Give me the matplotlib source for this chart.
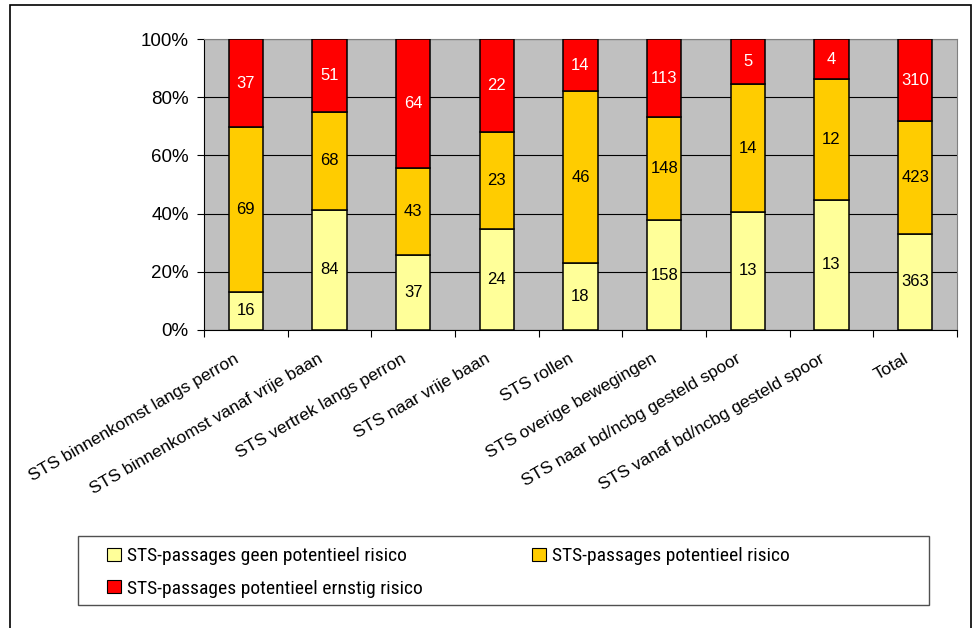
import matplotlib
matplotlib.use("Agg")
import matplotlib.pyplot as plt
from matplotlib import font_manager
from matplotlib.patches import Rectangle, Patch
import numpy as np

categories = [
    "STS binnenkomst langs perron",
    "STS binnenkomst vanaf vrije baan",
    "STS vertrek langs perron",
    "STS naar vrije baan",
    "STS rollen",
    "STS overige bewegingen",
    "STS naar bd/ncbg gesteld spoor",
    "STS vanaf bd/ncbg gesteld spoor",
    "Total",
]
geen = [16, 84, 37, 24, 18, 158, 13, 13, 363]
potentieel = [69, 68, 43, 23, 46, 148, 14, 12, 423]
ernstig = [37, 51, 64, 22, 14, 113, 5, 4, 310]
series_names = [
    "STS-passages geen potentieel risico",
    "STS-passages potentieel risico",
    "STS-passages potentieel ernstig risico",
]
colors = ["#FFFF99", "#FFCC00", "#FF0000"]
label_colors = ["black", "black", "white"]
yticks = [0, 20, 40, 60, 80, 100]

avail = {f.name for f in font_manager.fontManager.ttflist}
base_font = "Liberation Sans" if "Liberation Sans" in avail else "DejaVu Sans"
legend_font = base_font
for cand in ["Liberation Sans Narrow", "Roboto Condensed"]:
    if cand in avail:
        legend_font = cand
        break
plt.rcParams["font.family"] = [base_font, "DejaVu Sans"]

W, H = 978, 628
fig = plt.figure(figsize=(W/100, H/100), dpi=100)
ax = fig.add_axes([204/W, 1-330/H, (957-204)/W, (330-39)/H])
ax.set_facecolor("#C0C0C0")

data = np.array([geen, potentieel, ernstig], dtype=float)
totals = data.sum(axis=0)
pct = data / totals * 100
x = np.arange(len(categories))
bottom = np.zeros(len(categories))
for i in range(3):
    ax.bar(x, pct[i], 0.41, bottom=bottom, color=colors[i], edgecolor="black",
           linewidth=1.1, zorder=3)
    for j in range(len(categories)):
        ax.text(x[j], bottom[j] + pct[i][j] / 2, str(int(data[i][j])),
                ha="center", va="center", fontsize=12, color=label_colors[i], zorder=4)
    bottom += pct[i]

ax.set_xlim(-0.5, len(categories) - 0.5)
ax.set_ylim(0, 100)
ax.set_yticks(yticks)
ax.set_yticklabels([f"{v}%" for v in yticks], fontsize=13.5)
ax.yaxis.grid(True, color="black", linewidth=0.8, zorder=1)
ax.set_axisbelow(True)
ax.set_xticks(np.arange(len(categories) + 1) - 0.5)
ax.set_xticklabels([])
ax.tick_params(axis="x", length=5, width=0.8, color="black")
ax.tick_params(axis="y", length=5, width=0.8, color="black", pad=6)
for s in ax.spines.values():
    s.set_color("#808080")
    s.set_linewidth(0.8)
ax.spines["left"].set_color("black")
ax.spines["bottom"].set_color("black")

for j, c in enumerate(categories):
    ax.annotate(c, xy=(x[j], 0), xycoords=("data", "axes fraction"),
                xytext=(-6, -20), textcoords="offset points",
                rotation=30, rotation_mode="anchor", ha="right", va="center",
                fontsize=12.5)

handles = [Patch(facecolor=colors[i], edgecolor="black", linewidth=0.8) for i in range(3)]
common = dict(frameon=False, loc="upper left", prop={"family": legend_font, "size": 14},
              handlelength=0.72, handleheight=0.68, handletextpad=0.3,
              labelspacing=0.75, borderpad=0, borderaxespad=0)
fig.legend([handles[0], handles[2]], [series_names[0], series_names[2]],
           bbox_to_anchor=(107/W, 1-547/H), **common)
fig.legend([handles[1]], [series_names[1]],
           bbox_to_anchor=(532/W, 1-547/H), **common)

fig.patches.append(Rectangle((78/W, 1-605/H), (929-78)/W, (605-536)/H,
                             transform=fig.transFigure, fill=False,
                             edgecolor="#505050", linewidth=1.0))
fig.patches.append(Rectangle((10/W, -0.1), (971-10)/W, 1.1 - 5/H,
                             transform=fig.transFigure, fill=False,
                             edgecolor="black", linewidth=1.2))

fig.savefig("out.png", dpi=100)
